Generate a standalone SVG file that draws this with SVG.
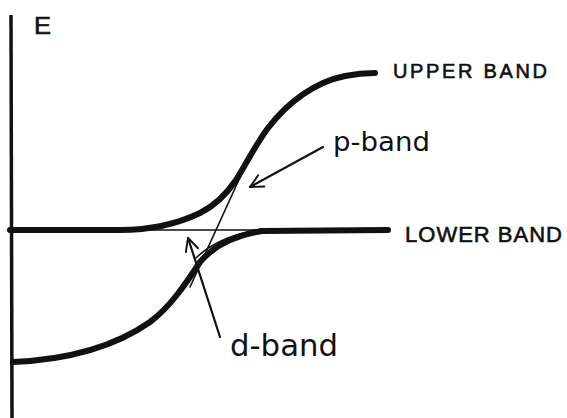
<svg xmlns="http://www.w3.org/2000/svg" width="567" height="418" viewBox="0 0 567 418">
<defs>
<style>
.thick{fill:none;stroke:#111;stroke-width:6;stroke-linecap:round;stroke-linejoin:round}
.thin{fill:none;stroke:#111;stroke-width:1.6;stroke-linecap:round}
.arrow{fill:none;stroke:#111;stroke-width:2.2;stroke-linecap:round;marker-end:url(#vee)}
.cap{font-family:"Liberation Sans","DejaVu Sans",sans-serif;fill:#111;stroke:#111;stroke-width:0.6}
.hand{font-family:"DejaVu Sans","Liberation Sans",sans-serif;fill:#111}
</style>
<marker id="vee" viewBox="0 0 20 20" refX="18" refY="10" markerWidth="16" markerHeight="16" markerUnits="userSpaceOnUse" orient="auto">
<polyline points="2,2 18,10 2,18" fill="none" stroke="#111" stroke-width="2.4" stroke-linecap="round" stroke-linejoin="round"/>
</marker>
</defs>
<rect width="567" height="418" fill="#fff"/>
<g id="axis">
<line x1="11" y1="15" x2="12" y2="418" stroke="#111" stroke-width="3.5"/>
<text class="cap" x="34" y="34" font-size="23" textLength="17" lengthAdjust="spacingAndGlyphs">E</text>
</g>
<g id="upper-band">
<path class="thick" d="M10,230 L120,230 C150,230 175,225 200,213 C218,204 228,192 236,180 C246,164 256,144 268,128 C288,102 315,82 345,76 C355,74 365,73 375,73"/>
<text class="cap" x="393" y="78" font-size="20" textLength="154" lengthAdjust="spacing">UPPER BAND</text>
</g>
<g id="lower-band">
<path class="thick" d="M13,362 C60,360 110,350 150,322 C170,307 185,285 200,262 C212,248 230,236 262,231 L388,230"/>
<text class="cap" x="405" y="242" font-size="22" textLength="157" lengthAdjust="spacing">LOWER BAND</text>
</g>
<g id="d-band">
<path class="thin" d="M130,230 L262,230"/>
<path class="thin" d="M196,258 C210,244 232,234 262,229"/>
<text class="hand" x="230" y="356" font-size="31" textLength="108" lengthAdjust="spacingAndGlyphs">d-band</text>
</g>
<g id="p-band">
<path class="thin" d="M190,287 L247,162"/>
<text class="hand" x="333" y="151" font-size="27" textLength="97" lengthAdjust="spacingAndGlyphs">p-band</text>
</g>
<g id="connectors">
<path class="arrow" d="M323,147 L250,187"/>
<path class="arrow" d="M220,337 L188,238"/>
</g>
</svg>
